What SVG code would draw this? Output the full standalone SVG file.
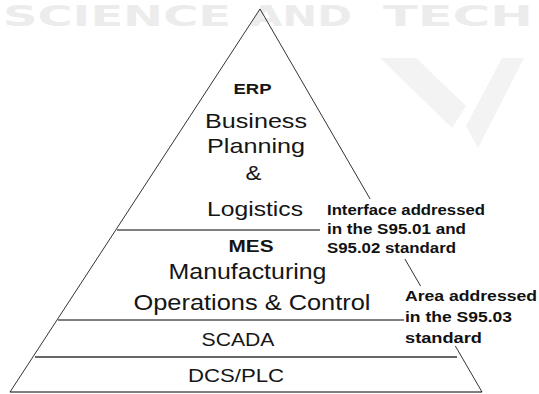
<svg xmlns="http://www.w3.org/2000/svg" width="539" height="394" viewBox="0 0 539 394">
<style>
.wm{font-family:"DejaVu Sans",sans-serif;font-weight:bold;font-size:28px;fill:#ececec}
.t{font-family:"Liberation Sans",Arial,sans-serif;fill:#151515;text-anchor:middle}
.b{font-weight:bold}
.note{font-family:"Liberation Sans",Arial,sans-serif;font-weight:bold;fill:#111}
.edge{stroke:#333;stroke-width:1;fill:none}
.div{stroke:#000;stroke-width:1}
</style>
<rect width="539" height="394" fill="#fff"/>
<g id="watermark">
<text class="wm" x="3" y="26" textLength="228" lengthAdjust="spacingAndGlyphs">SCIENCE</text>
<text class="wm" x="250" y="26" textLength="102" lengthAdjust="spacingAndGlyphs">AND</text>
<text class="wm" x="383" y="26" textLength="150" lengthAdjust="spacingAndGlyphs">TECH</text>
<polygon points="380,58 416,58 466,106 452,128" fill="#f3f3f3"/>
<polygon points="502,58 524,58 478,148 466,126" fill="#f3f3f3"/>
</g>
<g id="pyramid">
<polyline class="edge" points="10,392 260,9 482,392"/>
</g>
<g id="connectors">
<line class="div" x1="117" y1="230" x2="320" y2="230"/>
<line class="div" x1="58" y1="320" x2="404" y2="320"/>
<line x1="35" y1="357" x2="457" y2="357" stroke="#666" stroke-width="2"/>
<line class="div" x1="10" y1="392" x2="482" y2="392"/>
</g>
<g id="erp">
<text class="t b" x="252.5" y="94" font-size="15" textLength="38" lengthAdjust="spacingAndGlyphs">ERP</text>
<text class="t" x="256" y="128" font-size="21" textLength="102" lengthAdjust="spacingAndGlyphs">Business</text>
<text class="t" x="256" y="153" font-size="21" textLength="98" lengthAdjust="spacingAndGlyphs">Planning</text>
<text class="t" x="253.5" y="180" font-size="21" textLength="16" lengthAdjust="spacingAndGlyphs">&amp;</text>
<text class="t" x="255" y="216" font-size="21" textLength="96" lengthAdjust="spacingAndGlyphs">Logistics</text>
</g>
<g id="mes">
<text class="t b" x="251" y="252" font-size="17" textLength="45" lengthAdjust="spacingAndGlyphs">MES</text>
<text class="t" x="247.5" y="279" font-size="22" textLength="158" lengthAdjust="spacingAndGlyphs">Manufacturing</text>
<text class="t" x="252" y="310" font-size="22" textLength="237" lengthAdjust="spacingAndGlyphs">Operations &amp; Control</text>
</g>
<g id="scada">
<text class="t" x="238" y="346" font-size="18" textLength="73" lengthAdjust="spacingAndGlyphs">SCADA</text>
</g>
<g id="dcs-plc">
<text class="t" x="236" y="382" font-size="18" textLength="96" lengthAdjust="spacingAndGlyphs">DCS/PLC</text>
</g>
<g id="note-interface">
<rect x="324" y="199" width="168" height="60" fill="#fff"/>
<text class="note" font-size="14">
<tspan x="327" y="215" textLength="158" lengthAdjust="spacingAndGlyphs">Interface addressed</tspan>
<tspan x="327" y="234" textLength="139" lengthAdjust="spacingAndGlyphs">in the S95.01 and</tspan>
<tspan x="327" y="253" textLength="129" lengthAdjust="spacingAndGlyphs">S95.02 standard</tspan>
</text>
</g>
<g id="note-area">
<rect x="404" y="286" width="135" height="60" fill="#fff"/>
<text class="note" font-size="15">
<tspan x="405" y="301" textLength="132" lengthAdjust="spacingAndGlyphs">Area addressed</tspan>
<tspan x="405" y="322" textLength="107" lengthAdjust="spacingAndGlyphs">in the S95.03</tspan>
<tspan x="405" y="343" textLength="77" lengthAdjust="spacingAndGlyphs">standard</tspan>
</text>
</g>
</svg>
